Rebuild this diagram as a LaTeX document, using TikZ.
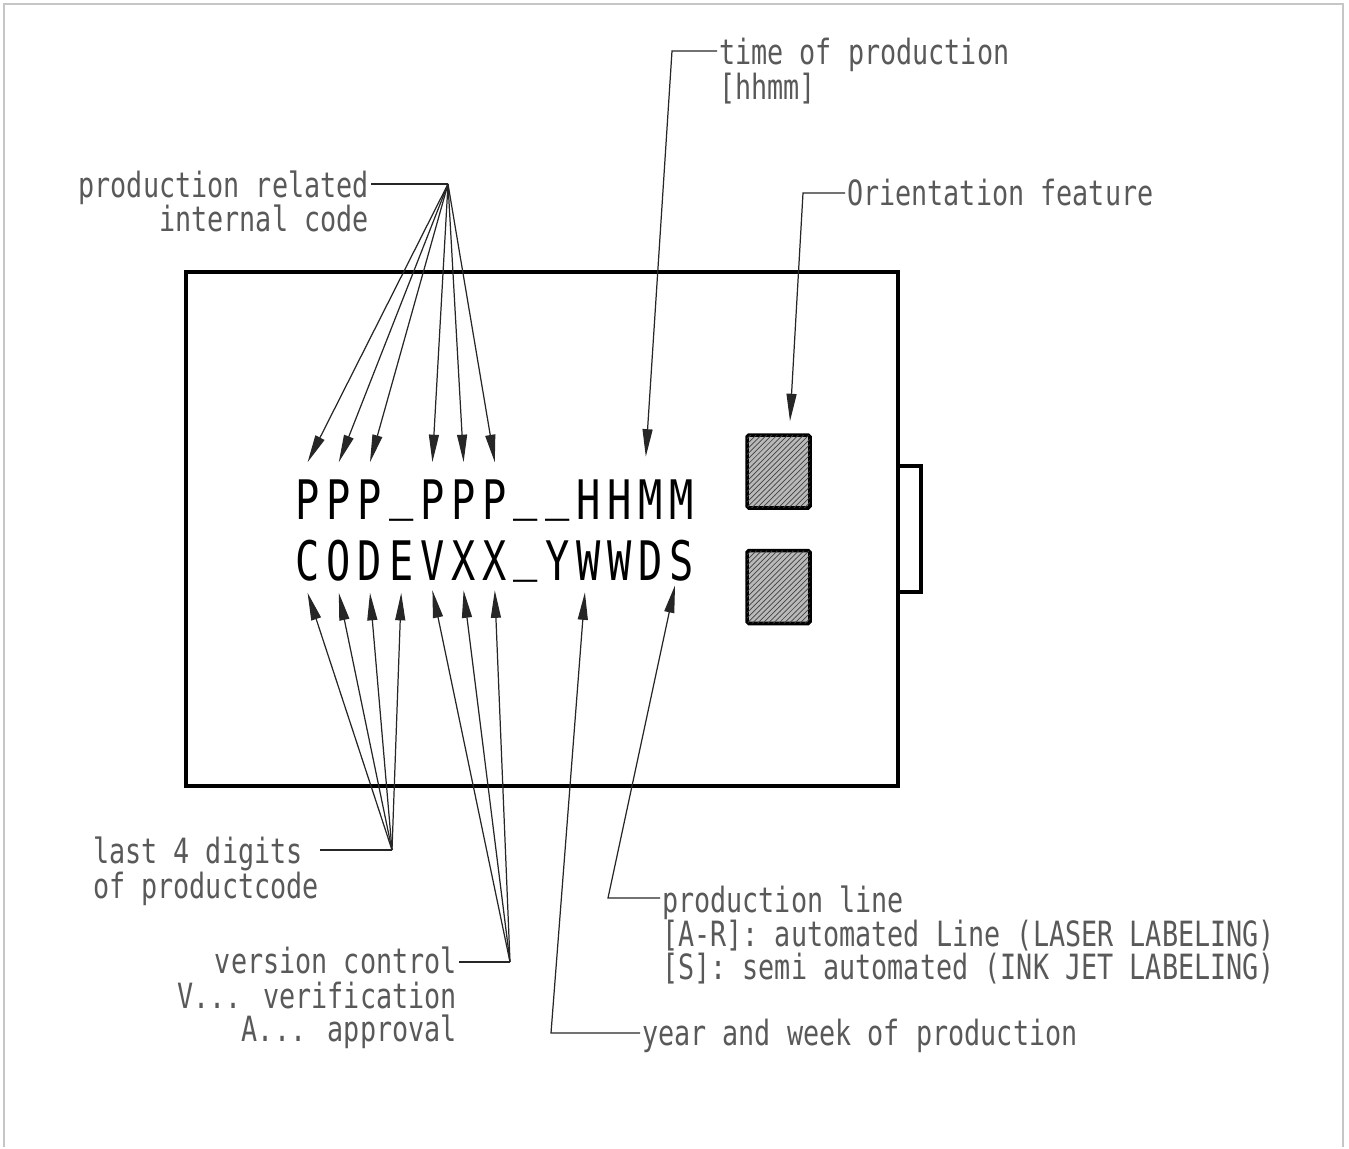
\documentclass[tikz,border=0pt]{standalone}
\usepackage{fontspec}
\usetikzlibrary{arrows.meta, positioning, patterns, calc}
\newfontfamily\labelfont[FakeStretch=0.77]{DejaVu Sans Mono}
\newfontfamily\codefont[FakeStretch=0.74]{DejaVu Sans Mono}
\newcommand{\codebar}{\raisebox{0.2em}{\_}}

\begin{document}
\begin{tikzpicture}[
    x=0.02cm, y=-0.02cm,
    >={Triangle[length=0.55cm, width=0.2cm]},
    lbl/.style={inner sep=1pt, text=black!65,
                font=\labelfont\fontsize{19.8}{20}\selectfont},
    glyph/.style={anchor=base, inner sep=0pt, text height=0.8cm,
                  text depth=0pt, font=\codefont\fontsize{31}{31}\selectfont},
    wire/.style={draw=black!85, line width=0.7pt},
    lead/.style={wire, ->},
    pad/.style={draw, line width=2pt, rounded corners=1pt,
                minimum width=1.26cm, minimum height=1.46cm, fill=gray!55,
                postaction={pattern=north east lines, pattern color=black!75}}
  ]
  \useasboundingbox (0,0) rectangle (1349,1149);
  \draw[gray!45, line width=0.8pt] (4,1147) -- (4,4) -- (1343,4) -- (1343,1147);

  % Label body
  \draw[line width=2.2pt] (186,272) rectangle (898,786);
  \draw[line width=1.8pt] (898,466) -- (921,466) -- (921,592) -- (898,592);
  \node[pad] (sq1) at (778.5,471.5) {};
  \node[pad] (sq2) at (778.5,587) {};

  % Marking
  \foreach \c [count=\i from 0] in {P,P,P,\codebar,P,P,P,\codebar,\codebar,H,H,M,M}
    \node[glyph] (t\i) at (307.6+31.2*\i, 519) {\c};
  \foreach \c [count=\i from 0] in {C,O,D,E,V,X,X,\codebar,Y,W,W,D,S}
    \node[glyph] (b\i) at (307.6+31.2*\i, 580) {\c};

  % Production related internal code
  \coordinate (prc) at (448,184);
  \node[lbl, anchor=base east] (prl1) at (371,197) {production related};
  \node[lbl, anchor=base east] (prl2) at ([yshift=-0.7cm]prl1.base east) {internal code};
  \draw[wire] (prl1.east |- prc) -- (prc);
  \foreach \k in {0,1,2,4,5,6}
    \draw[lead] (prc) -- ([yshift=0.33cm]t\k.north);

  % Time of production
  \coordinate (tpc) at (672,51);
  \node[lbl, anchor=base west] (tp1) at (717,65) {time of production};
  \node[lbl, anchor=base west] (tp2) at ([yshift=-0.7cm]tp1.base west) {[hhmm]};
  \draw[lead] (tp1.west |- tpc) -- (tpc) -- ([xshift=-0.1cm, yshift=0.44cm]t11.north);

  % Orientation feature
  \coordinate (ofc) at (803,193);
  \node[lbl, anchor=base west] (of) at (845,205) {Orientation feature};
  \draw[lead] (of.west |- ofc) -- (ofc) -- ([xshift=0.23cm, yshift=0.24cm]sq1.north);

  % Last 4 digits
  \coordinate (ldc) at (392,850);
  \coordinate (ldl) at (320,850);
  \node[lbl, anchor=base west] (ld1) at (91,863) {last 4 digits};
  \node[lbl, anchor=base west] (ld2) at ([yshift=-0.7cm]ld1.base west) {of productcode};
  \draw[wire] (ldl) -- (ldc);
  \foreach \k in {0,...,3}
    \draw[lead] (ldc) -- ([yshift=-0.25cm]b\k.south);

  % Version control
  \coordinate (vcc) at (510,962);
  \node[lbl, anchor=base east] (vc1) at (459,973) {version control};
  \node[lbl, anchor=base east] (vc2) at ([yshift=-0.7cm]vc1.base east) {V... verification};
  \node[lbl, anchor=base east] (vc3) at ([yshift=-0.68cm]vc2.base east) {A... approval};
  \draw[wire] (vc1.east |- vcc) -- (vcc);
  \foreach \k in {4,5,6}
    \draw[lead] (vcc) -- ([yshift=-0.2cm]b\k.south);

  % Production line
  \coordinate (plc) at (608,898);
  \node[lbl, anchor=base west] (pl1) at (660,912) {production line};
  \node[lbl, anchor=base west] (pl2) at ([yshift=-0.68cm]pl1.base west)
    {[A-R]: automated Line (LASER LABELING)};
  \node[lbl, anchor=base west] (pl3) at ([yshift=-0.68cm]pl2.base west)
    {[S]: semi automated (INK JET LABELING)};
  \draw[lead] (pl1.west |- plc) -- (plc) -- ([xshift=-0.14cm, yshift=-0.1cm]b12.south);

  % Year and week
  \coordinate (ywc) at (551,1033);
  \node[lbl, anchor=base west] (yw) at (640,1045) {year and week of production};
  \draw[lead] (yw.west |- ywc) -- (ywc) -- ([xshift=-0.07cm, yshift=-0.24cm]b9.south);
\end{tikzpicture}
\end{document}
